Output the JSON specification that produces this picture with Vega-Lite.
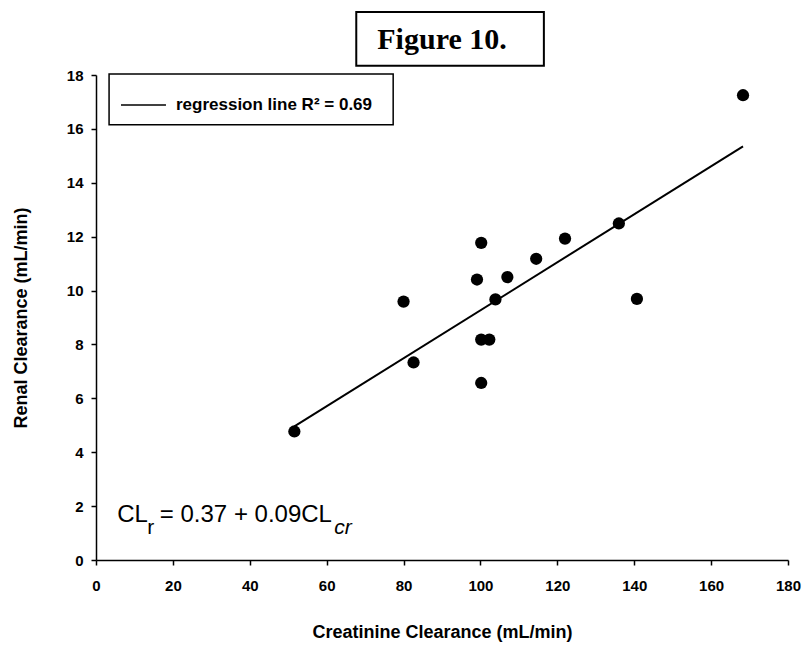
{
  "$schema": "https://vega.github.io/schema/vega-lite/v6.json",
  "autosize": {"type": "none"},
  "width": 692,
  "height": 485,
  "padding": {"left": 96, "top": 75, "right": 18, "bottom": 85},
  "background": "white",
  "config": {
    "view": {"stroke": null},
    "axis": {
      "grid": false,
      "domainColor": "black",
      "domainWidth": 1.5,
      "tickColor": "black",
      "tickWidth": 1.5,
      "tickSize": 5,
      "labelFlush": false,
      "labelFont": "Liberation Sans",
      "labelFontWeight": "bold",
      "labelFontSize": 15,
      "labelColor": "black",
      "titleFont": "Liberation Sans",
      "titleFontWeight": "bold",
      "titleFontSize": 18,
      "titleColor": "black"
    }
  },
  "datasets": {
    "points": [
      {"cl_cr": 51.6, "cl_r": 4.77},
      {"cl_cr": 80.0, "cl_r": 9.59},
      {"cl_cr": 82.6, "cl_r": 7.33},
      {"cl_cr": 99.1, "cl_r": 10.41},
      {"cl_cr": 100.2, "cl_r": 11.77},
      {"cl_cr": 100.2, "cl_r": 8.18},
      {"cl_cr": 102.3, "cl_r": 8.18},
      {"cl_cr": 100.2, "cl_r": 6.57},
      {"cl_cr": 103.9, "cl_r": 9.67},
      {"cl_cr": 107.0, "cl_r": 10.5},
      {"cl_cr": 114.5, "cl_r": 11.18},
      {"cl_cr": 122.0, "cl_r": 11.93},
      {"cl_cr": 136.0, "cl_r": 12.49},
      {"cl_cr": 140.7, "cl_r": 9.69},
      {"cl_cr": 168.3, "cl_r": 17.25}
    ],
    "fit": [
      {"cl_cr": 51.6, "cl_r": 4.96},
      {"cl_cr": 168.3, "cl_r": 15.35}
    ]
  },
  "layer": [
    {
      "data": {"name": "fit"},
      "mark": {"type": "line", "color": "black", "strokeWidth": 2},
      "encoding": {
        "x": {"field": "cl_cr", "type": "quantitative", "scale": {"domain": [0, 180], "nice": false},
          "axis": {"title": "Creatinine Clearance (mL/min)", "values": [0, 20, 40, 60, 80, 100, 120, 140, 160, 180], "labelPadding": 13, "titlePadding": 30}},
        "y": {"field": "cl_r", "type": "quantitative", "scale": {"domain": [0, 18], "nice": false},
          "axis": {"title": "Renal Clearance (mL/min)", "values": [0, 2, 4, 6, 8, 10, 12, 14, 16, 18], "labelPadding": 8, "titlePadding": 36}}
      }
    },
    {
      "data": {"name": "points"},
      "mark": {"type": "point", "shape": "circle", "filled": true, "color": "black", "opacity": 1, "size": 150},
      "encoding": {
        "x": {"field": "cl_cr", "type": "quantitative"},
        "y": {"field": "cl_r", "type": "quantitative"}
      }
    },
    {
      "data": {"values": [{"x1": 67.7, "x2": 116.5, "y1": 20.34, "y2": 18.34}]},
      "mark": {"type": "rect", "fill": "white", "stroke": "black", "strokeWidth": 2},
      "encoding": {
        "x": {"field": "x1", "type": "quantitative"},
        "x2": {"field": "x2"},
        "y": {"field": "y1", "type": "quantitative"},
        "y2": {"field": "y2"}
      }
    },
    {
      "data": {"values": [{"x": 90.0, "y": 19.3, "label": "Figure 10."}]},
      "mark": {"type": "text", "font": "Liberation Serif", "fontWeight": "bold", "fontSize": 30, "align": "center", "baseline": "middle", "color": "black"},
      "encoding": {
        "x": {"field": "x", "type": "quantitative"},
        "y": {"field": "y", "type": "quantitative"},
        "text": {"field": "label"}
      }
    },
    {
      "data": {"values": [{"x1": 3.4, "x2": 77.3, "y1": 18.04, "y2": 16.15}]},
      "mark": {"type": "rect", "fill": "white", "stroke": "black", "strokeWidth": 1.5},
      "encoding": {
        "x": {"field": "x1", "type": "quantitative"},
        "x2": {"field": "x2"},
        "y": {"field": "y1", "type": "quantitative"},
        "y2": {"field": "y2"}
      }
    },
    {
      "data": {"values": [{"x1": 6.5, "x2": 18.2, "y": 16.89}]},
      "mark": {"type": "rule", "color": "black", "strokeWidth": 1.5},
      "encoding": {
        "x": {"field": "x1", "type": "quantitative"},
        "x2": {"field": "x2"},
        "y": {"field": "y", "type": "quantitative"}
      }
    },
    {
      "data": {"values": [{"x": 20.8, "y": 16.89, "label": "regression line R² = 0.69"}]},
      "mark": {"type": "text", "font": "Liberation Sans", "fontWeight": "bold", "fontSize": 17, "align": "left", "baseline": "middle", "color": "black"},
      "encoding": {
        "x": {"field": "x", "type": "quantitative"},
        "y": {"field": "y", "type": "quantitative"},
        "text": {"field": "label"}
      }
    },
    {
      "data": {"values": [
        {"x": 5.5, "y": 1.41, "label": "CL"},
        {"x": 16.6, "y": 1.41, "label": "= 0.37 + 0.09CL"}
      ]},
      "mark": {"type": "text", "font": "Liberation Sans", "fontSize": 24, "align": "left", "baseline": "alphabetic", "color": "black"},
      "encoding": {
        "x": {"field": "x", "type": "quantitative"},
        "y": {"field": "y", "type": "quantitative"},
        "text": {"field": "label"}
      }
    },
    {
      "data": {"values": [{"x": 13.3, "y": 0.98, "label": "r"}]},
      "mark": {"type": "text", "font": "Liberation Sans", "fontSize": 21, "align": "left", "baseline": "alphabetic", "color": "black"},
      "encoding": {
        "x": {"field": "x", "type": "quantitative"},
        "y": {"field": "y", "type": "quantitative"},
        "text": {"field": "label"}
      }
    },
    {
      "data": {"values": [{"x": 62.0, "y": 0.98, "label": "cr"}]},
      "mark": {"type": "text", "font": "Liberation Sans", "fontSize": 21, "fontStyle": "italic", "align": "left", "baseline": "alphabetic", "color": "black"},
      "encoding": {
        "x": {"field": "x", "type": "quantitative"},
        "y": {"field": "y", "type": "quantitative"},
        "text": {"field": "label"}
      }
    }
  ]
}
